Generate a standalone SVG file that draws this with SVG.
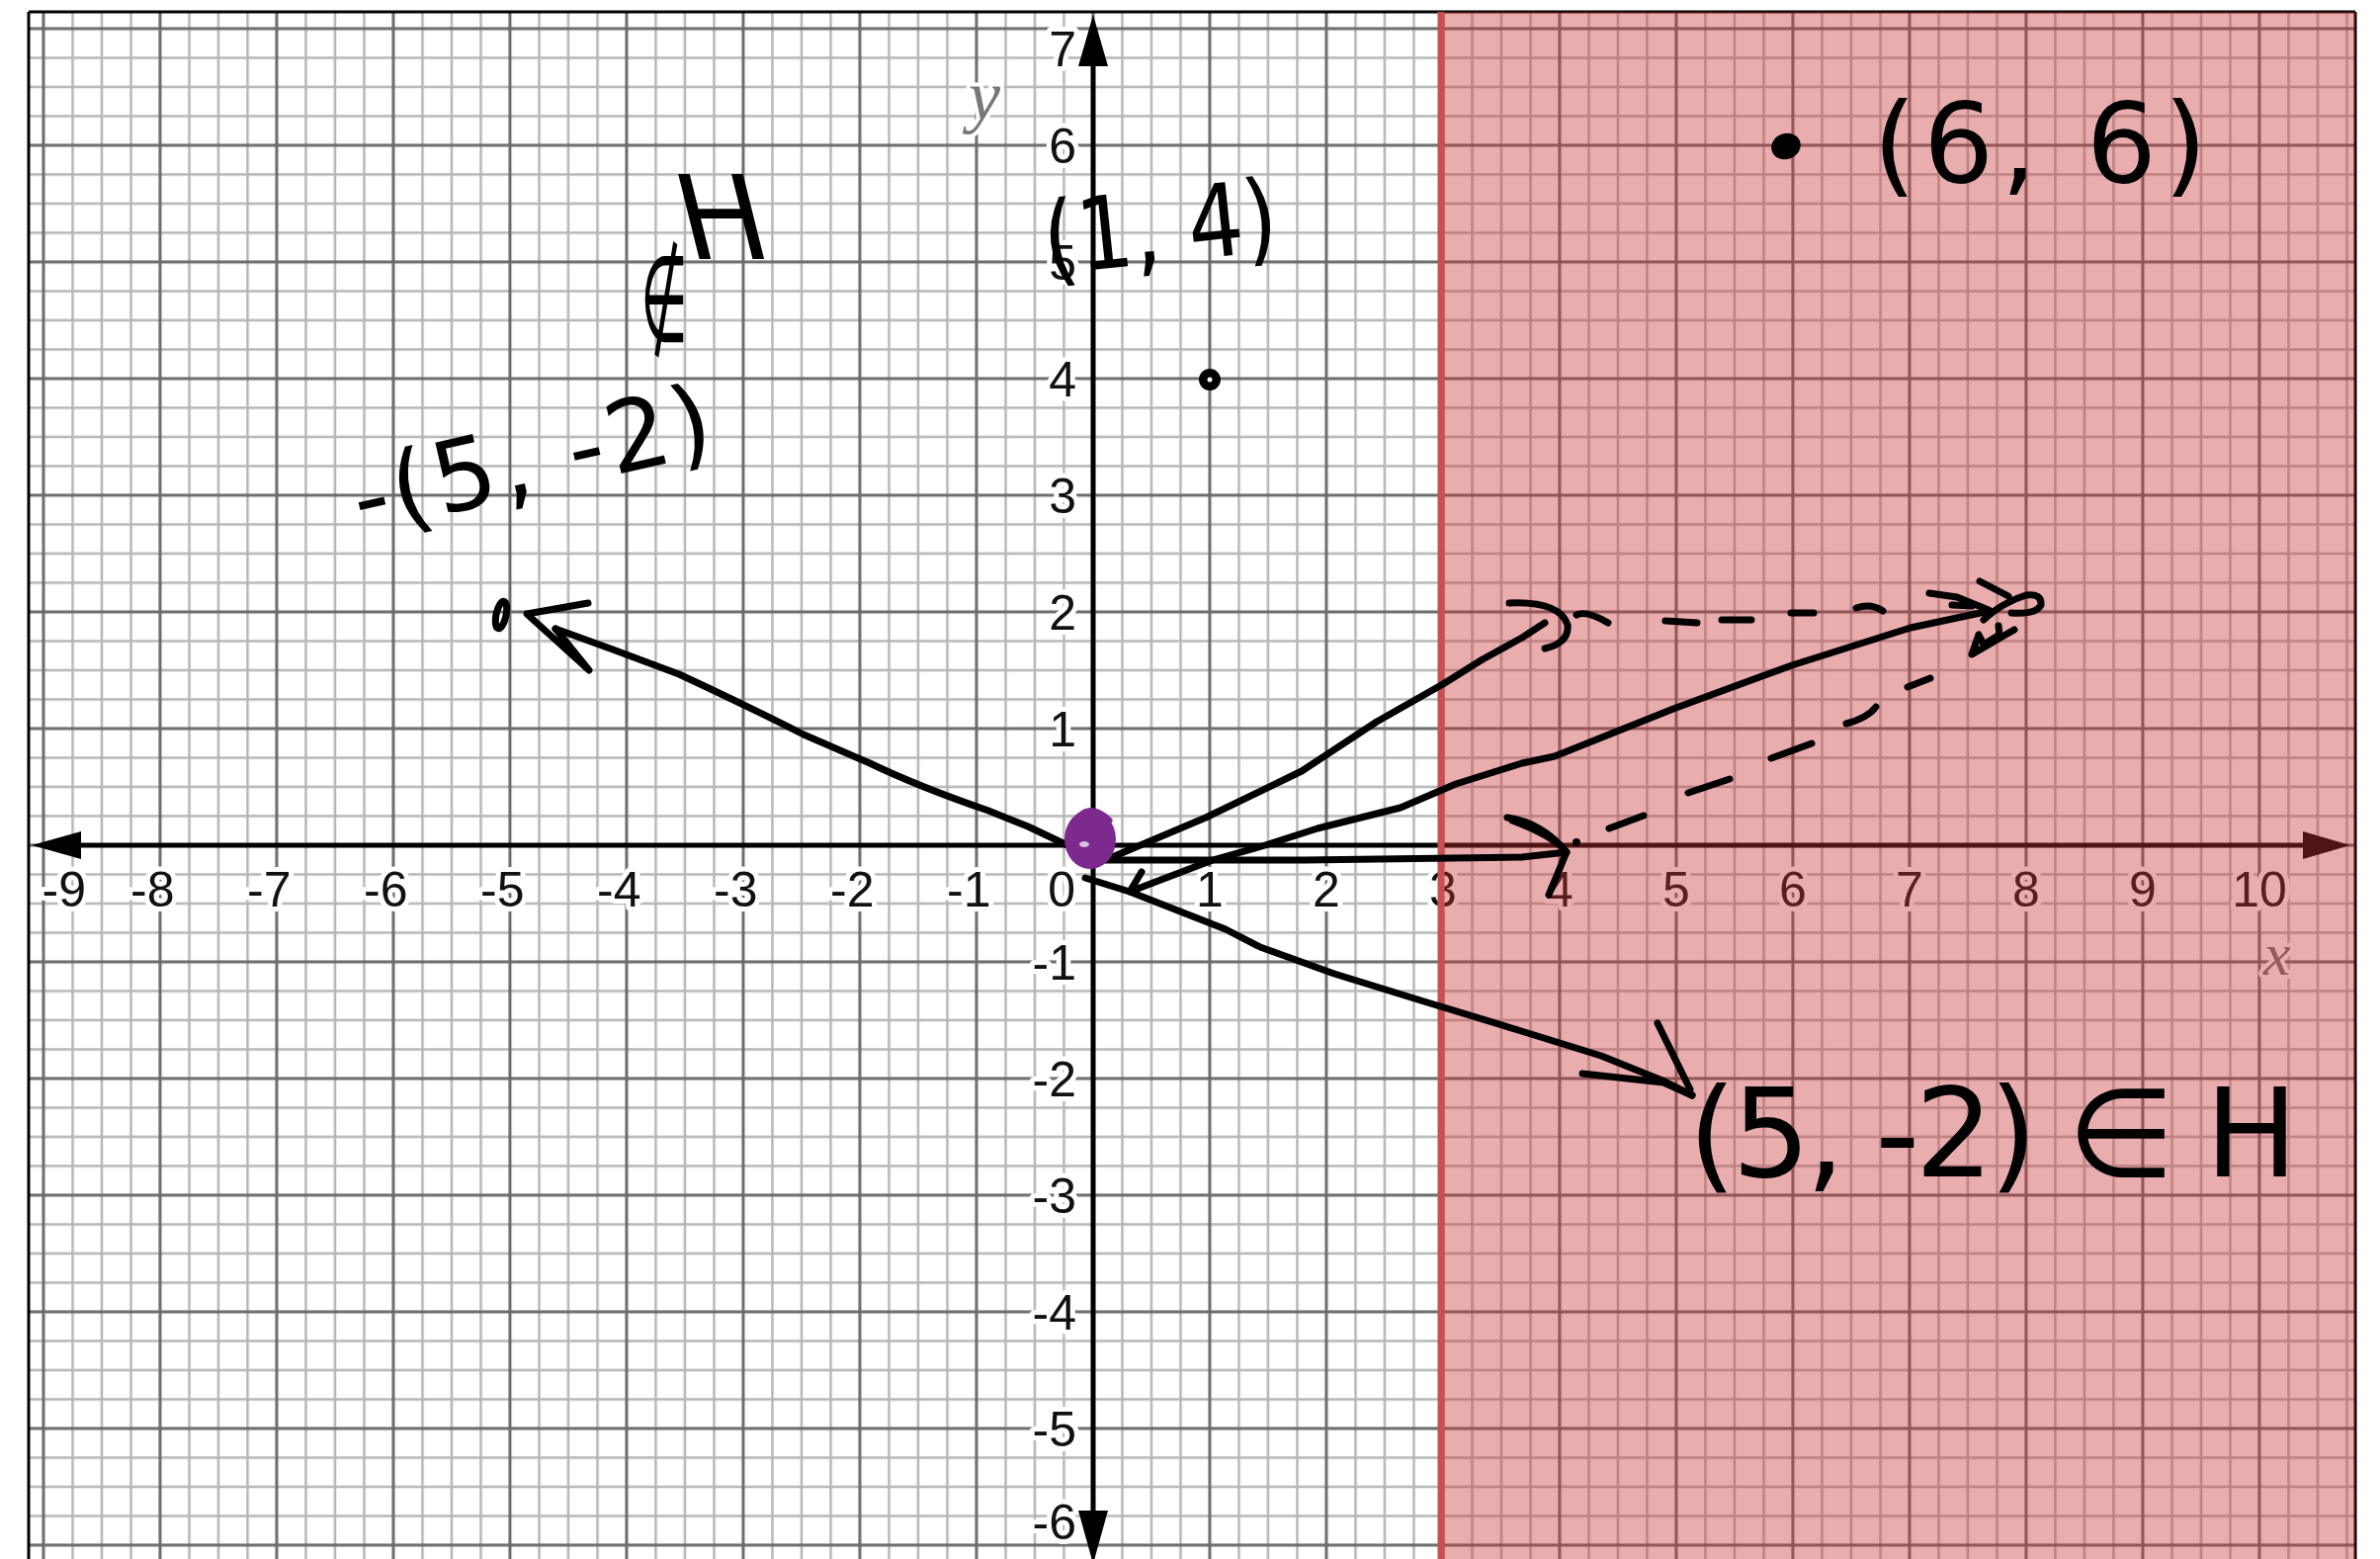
<svg xmlns="http://www.w3.org/2000/svg" width="2408" height="1577" viewBox="0 0 2408 1577">
<defs>
<style>
.tick{font-family:"Liberation Sans",Arial,sans-serif;font-size:50px;fill:#111;stroke:#fff;stroke-width:10px;paint-order:stroke;stroke-linejoin:round}
.axl{font-family:"Liberation Serif","Times New Roman",serif;font-style:italic;fill:#777;stroke:#fff;stroke-width:8px;paint-order:stroke}
.ink{fill:none;stroke:#000;stroke-width:7;stroke-linecap:round;stroke-linejoin:round}
.hand{font-family:"DejaVu Sans","Noto Sans",sans-serif;fill:#000}
</style>
<pattern id="grid" patternUnits="userSpaceOnUse" x="1091.25" y="840.25" width="118" height="118">
<path d="M44.25 0V118M73.75 0V118M103.25 0V118M0 44.25H118M0 73.75H118M0 103.25H118" stroke="#b6b6b6" stroke-width="2.5" fill="none"/>
<path d="M14.75 0V118M0 14.75H118" stroke="#6a6a6a" stroke-width="3" fill="none"/>
</pattern>
</defs>
<rect width="2408" height="1577" fill="#fff"/>
<g id="grid-paper">
<rect x="29" y="12" width="2354" height="1570" fill="url(#grid)"/>
<path d="M29 12H2383M29 12V1577M2383 12V1577" stroke="#000" stroke-width="3" fill="none"/>
</g>
<g id="axes">
<line x1="70" y1="855" x2="2340" y2="855" stroke="#000" stroke-width="5"/>
<polygon points="32,855 82,841 82,869" fill="#000"/>
<polygon points="2378,855 2330,841 2330,869" fill="#000"/>
<line x1="1106" y1="60" x2="1106" y2="1535" stroke="#000" stroke-width="5"/>
<polygon points="1106,15 1091,67 1121,67" fill="#000"/>
<polygon points="1106,1582 1091,1528 1121,1528" fill="#000"/>
</g>
<g id="tick-labels">
<text class="tick" x="87" y="917" text-anchor="end">-9</text>
<text class="tick" x="176.5" y="917" text-anchor="end">-8</text>
<text class="tick" x="294.5" y="917" text-anchor="end">-7</text>
<text class="tick" x="412.5" y="917" text-anchor="end">-6</text>
<text class="tick" x="530.5" y="917" text-anchor="end">-5</text>
<text class="tick" x="648.5" y="917" text-anchor="end">-4</text>
<text class="tick" x="766.5" y="917" text-anchor="end">-3</text>
<text class="tick" x="884.5" y="917" text-anchor="end">-2</text>
<text class="tick" x="1002.5" y="917" text-anchor="end">-1</text>
<text class="tick" x="1088" y="917" text-anchor="end">0</text>
<text class="tick" x="1224" y="917" text-anchor="middle">1</text>
<text class="tick" x="1342" y="917" text-anchor="middle">2</text>
<text class="tick" x="1460" y="917" text-anchor="middle">3</text>
<text class="tick" x="1578" y="917" text-anchor="middle">4</text>
<text class="tick" x="1696" y="917" text-anchor="middle">5</text>
<text class="tick" x="1814" y="917" text-anchor="middle">6</text>
<text class="tick" x="1932" y="917" text-anchor="middle">7</text>
<text class="tick" x="2050" y="917" text-anchor="middle">8</text>
<text class="tick" x="2168" y="917" text-anchor="middle">9</text>
<text class="tick" x="2286" y="917" text-anchor="middle">10</text>
<text class="tick" x="1089" y="67" text-anchor="end">7</text>
<text class="tick" x="1089" y="165" text-anchor="end">6</text>
<text class="tick" x="1089" y="283" text-anchor="end">5</text>
<text class="tick" x="1089" y="401" text-anchor="end">4</text>
<text class="tick" x="1089" y="519" text-anchor="end">3</text>
<text class="tick" x="1089" y="637" text-anchor="end">2</text>
<text class="tick" x="1089" y="755" text-anchor="end">1</text>
<text class="tick" x="1089" y="991" text-anchor="end">-1</text>
<text class="tick" x="1089" y="1109" text-anchor="end">-2</text>
<text class="tick" x="1089" y="1227" text-anchor="end">-3</text>
<text class="tick" x="1089" y="1345" text-anchor="end">-4</text>
<text class="tick" x="1089" y="1463" text-anchor="end">-5</text>
<text class="tick" x="1089" y="1557" text-anchor="end">-6</text>
<text class="axl" x="980" y="121" font-size="72">y</text>
<text class="axl" x="2290" y="986" font-size="62">x</text>
</g>
<g id="half-plane">
<rect x="1458" y="12" width="925" height="1570" fill="rgb(200,50,50)" fill-opacity="0.4"/>
<line x1="1458" y1="12" x2="1458" y2="1577" stroke="rgb(200,80,80)" stroke-width="7"/>
</g>
<g id="connectors">
<g id="vec-neg">
<path class="ink" d="M1080,855 L1040,836 L1000,820 Q930,796 880,772 L813,743 Q760,716 687,682 L620,657 L562,636"/>
<path class="ink" d="M595,610 L533,621 L596,678 L562,636"/>
</g>
<g id="vec-4-2">
<path class="ink" d="M1123,868 L1220,827 L1317,780 L1393,730 L1460,692 L1500,667 L1540,645 L1563,630"/>
<path class="ink" d="M1527,610 Q1578,608 1586,632 Q1588,650 1563,656"/>
</g>
<g id="vec-8-2">
<path class="ink" d="M1155,882 L1143,902 L1227,870 L1280,855 L1333,838 L1417,817 L1473,793 L1540,772 L1573,765 L1693,717 L1813,673 L1933,635 L2013,618"/>
<path class="ink" stroke-width="13" d="M1952,600 L1980,604 L2012,617"/>
<path class="ink" d="M1975,612 L1995,613 M2003,588 L2032,603 M2007,627 Q2025,610 2050,602 Q2066,600 2065,612 Q2060,622 2035,620 M2022,633 L2023,642 L2007,652 L2002,642 L1995,662 L2038,637"/>
</g>
<g id="vec-4-0">
<path class="ink" d="M1107,870 L1320,870 L1540,867 L1585,862"/>
<path class="ink" d="M1525,827 Q1560,832 1585,862 L1567,905 M1530,830 Q1570,845 1583,860"/>
<circle cx="1595" cy="852" r="4" fill="#000"/>
</g>
<g id="vec-5-m2">
<path class="ink" d="M1098,888 L1143,902 L1240,940 L1275,958 L1350,985 L1444,1014 L1536,1042 L1620,1068 L1682,1093 L1712,1108"/>
<path class="ink" stroke-width="9" d="M1601,1086 L1683,1095 L1712,1108 M1677,1035 L1710,1102"/>
</g>
<g id="dashes">
<path class="ink" d="M1595,622 Q1605,617 1627,630 M1685,628 L1717,630 M1742,627 L1772,627 M1812,620 L1835,620 M1878,615 Q1893,610 1905,618"/>
<path class="ink" d="M1628,838 L1663,825 M1708,802 L1750,788 M1792,767 L1833,752 M1868,732 Q1890,726 1898,715 M1930,695 L1953,686"/>
</g>
</g>
<g id="point-origin">
<ellipse cx="1103" cy="849" rx="26" ry="30" fill="#7d2a8f"/>
<path d="M1082,842 Q1098,806 1122,830" fill="none" stroke="#7d2a8f" stroke-width="7" stroke-linecap="round"/>
<ellipse cx="1097" cy="854" rx="5" ry="3" fill="#d9bfe3"/>
</g>
<g id="point-1-4">
<circle cx="1224" cy="384" r="8" fill="#000" stroke="#000" stroke-width="6"/>
<circle cx="1224" cy="384" r="2.5" fill="#fff"/>
<text class="hand" x="1054" y="266" font-size="102" textLength="238" lengthAdjust="spacingAndGlyphs" transform="rotate(-6 1170 225)">(1, 4)</text>
</g>
<g id="point-6-6">
<ellipse cx="1807" cy="148" rx="15" ry="13" transform="rotate(-20 1807 148)" fill="#000"/>
<text class="hand" x="1895" y="184" font-size="112" textLength="338" lengthAdjust="spacing">(6, 6)</text>
</g>
<g id="point-neg-5-2">
<ellipse cx="507" cy="622" rx="5" ry="14" transform="rotate(12 507 622)" fill="none" stroke="#000" stroke-width="7"/>
<text class="hand" x="365" y="540" font-size="100" textLength="370" lengthAdjust="spacing" transform="rotate(-13 365 540)">-(5, -2)</text>
<text class="hand" font-size="110" transform="translate(648 345) scale(0.5 1.1)" x="0" y="0">∉</text>
<text class="hand" font-size="118" transform="translate(696 262) skewX(14)" x="0" y="0">H</text>
</g>
<g id="point-5-m2">
<text class="hand" x="1708" y="1190" font-size="125" textLength="617" lengthAdjust="spacing">(5, -2) ∈ H</text>
</g>
</svg>
